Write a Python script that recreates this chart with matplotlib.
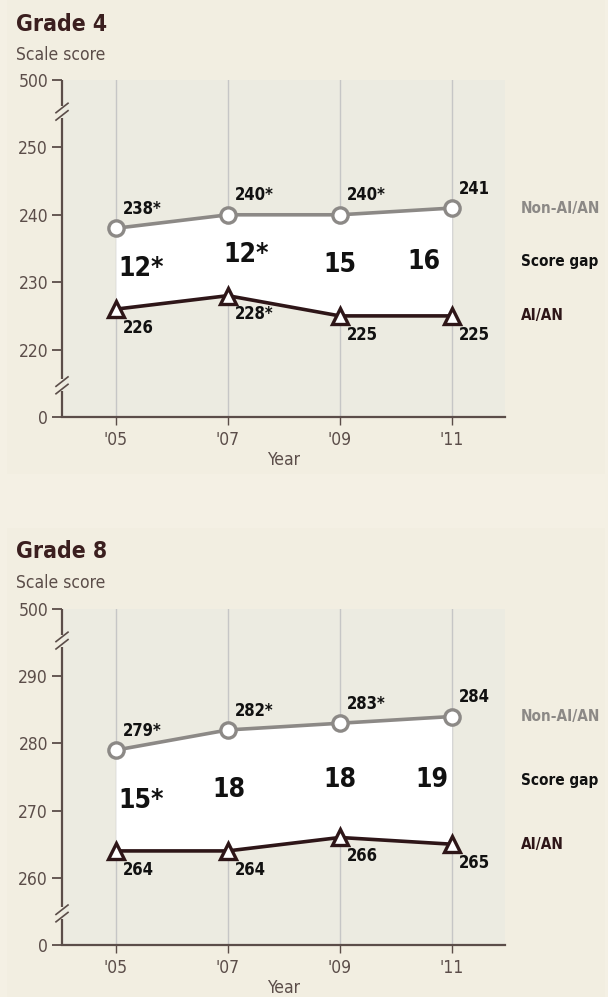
import matplotlib
matplotlib.use("Agg")
import matplotlib.pyplot as plt
import matplotlib.transforms as mtransforms
from matplotlib.patches import Rectangle

plt.rcParams['font.family'] = ['DejaVu Sans']
plt.rcParams['font.stretch'] = 'condensed'

# data
years = [2005, 2007, 2009, 2011]
year_labels = ["'05", "'07", "'09", "'11"]

g4_non = [238, 240, 240, 241]
g4_ai = [226, 228, 225, 225]
g4_non_labels = ["238*", "240*", "240*", "241"]
g4_ai_labels = ["226", "228*", "225", "225"]
g4_gap_labels = ["12*", "12*", "15", "16"]
g4_ticks = [220, 230, 240, 250]

g8_non = [279, 282, 283, 284]
g8_ai = [264, 264, 266, 265]
g8_non_labels = ["279*", "282*", "283*", "284"]
g8_ai_labels = ["264", "264", "266", "265"]
g8_gap_labels = ["15*", "18", "18", "19"]
g8_ticks = [260, 270, 280, 290]

# colours
BG = "#f4f0e4"
PANEL = "#f2eee1"
PLOT_BG = "#ecebe1"
TITLE_C = "#3b1f1f"
TEXT_C = "#5b4d49"
AXIS_C = "#5b4d49"
GRID_C = "#c6c6c6"
NON_C = "#8c8986"
AI_C = "#2e1618"

W, H = 608, 997
fig = plt.figure(figsize=(W / 100, H / 100), dpi=100)
fig.patch.set_facecolor(BG)

# subtle panels behind each chart
for y0, y1 in [(0, 474), (528, 997)]:
    fig.patches.append(Rectangle((7 / W, 1 - y1 / H), 598 / W, (y1 - y0) / H,
                                 transform=fig.transFigure, facecolor=PANEL,
                                 edgecolor="none", zorder=-5))


def draw_panel(top_px, bottom_px, title, title_base, sub_base,
               non, ai, non_labels, ai_labels, gap_labels, gap_x, ticks):
    ax = fig.add_axes([62 / W, 1 - bottom_px / H, 443 / W, (bottom_px - top_px) / H])
    ax.set_facecolor(PLOT_BG)
    lo = ticks[0] - 10   # stands for 0
    hi = ticks[-1] + 10  # stands for 500
    ax.set_ylim(lo, hi)
    ax.set_xlim(2004.04, 2011.95)

    for s in ["top", "right", "left"]:
        ax.spines[s].set_visible(False)
    ax.spines["bottom"].set_color(AXIS_C)
    ax.spines["bottom"].set_linewidth(1.6)

    ax.set_yticks([lo] + ticks + [hi])
    ax.set_yticklabels(["0"] + [str(t) for t in ticks] + ["500"])
    ax.set_xticks(years)
    ax.set_xticklabels(year_labels)
    ax.tick_params(axis="y", length=7, width=1.3, color=AXIS_C,
                   labelcolor=TEXT_C, labelsize=12.5, pad=3)
    ax.tick_params(axis="x", length=6, width=1.0, color=AXIS_C,
                   labelcolor=TEXT_C, labelsize=12.5, pad=4)

    # broken y axis
    tr = mtransforms.blended_transform_factory(ax.transAxes, ax.transData)
    b_lo, b_hi = lo + 4.7, hi - 4.7
    g = 0.9
    for y0, y1 in [(lo, b_lo - g), (b_lo + g, b_hi - g), (b_hi + g, hi)]:
        ax.plot([0, 0], [y0, y1], color=AXIS_C, lw=1.6, transform=tr,
                clip_on=False, zorder=5, solid_capstyle="butt")
    dx = 6 / 443
    for b in [b_lo, b_hi]:
        for d in [-0.55, 0.55]:
            ax.plot([-dx, dx], [b + d - 0.7, b + d + 0.7], color=AXIS_C,
                    lw=1.2, transform=tr, clip_on=False, zorder=5)

    for x in years:
        ax.axvline(x, color=GRID_C, lw=1.0, zorder=1)

    ax.fill_between(years, ai, non, color="white", zorder=2, lw=0)

    ax.plot(years, non, color=NON_C, lw=2.6, marker="o", markersize=11,
            markerfacecolor="white", markeredgecolor=NON_C, markeredgewidth=2.4,
            zorder=4)
    ax.plot(years, ai, color=AI_C, lw=2.6, marker="^", markersize=11.5,
            markerfacecolor="white", markeredgecolor=AI_C, markeredgewidth=2.4,
            zorder=4)

    for x, v, lab in zip(years, non, non_labels):
        ax.annotate(lab, (x, v), xytext=(5, 14), textcoords="offset points",
                    ha="left", va="center", fontsize=12, fontweight="bold",
                    color="#111111", zorder=6)
    for x, v, lab in zip(years, ai, ai_labels):
        ax.annotate(lab, (x, v), xytext=(5, -13.5), textcoords="offset points",
                    ha="left", va="center", fontsize=12, fontweight="bold",
                    color="#111111", zorder=6)
    for x, a, b, lab in zip(gap_x, non, ai, gap_labels):
        ax.text(x, (a + b) / 2, lab, ha="center", va="center", fontsize=19,
                fontweight="bold", color="#111111", zorder=6)

    # right-hand key
    kx = 1.036
    ax.text(kx, non[-1], "Non-AI/AN", transform=tr, ha="left", va="center",
            fontsize=11, fontweight="bold", color=NON_C)
    ax.text(kx, (non[-1] + ai[-1]) / 2, "Score gap", transform=tr, ha="left",
            va="center", fontsize=11, fontweight="bold", color="#111111")
    ax.text(kx, ai[-1], "AI/AN", transform=tr, ha="left", va="center",
            fontsize=11, fontweight="bold", color=AI_C)

    ax.text(0.5, -43 / (bottom_px - top_px), "Year", transform=ax.transAxes,
            ha="center", va="center", fontsize=12.5, color=TEXT_C)

    fig.text(16 / W, 1 - title_base / H, title, ha="left", va="baseline",
             fontsize=16.5, fontweight="bold", color=TITLE_C)
    fig.text(16 / W, 1 - sub_base / H, "Scale score", ha="left", va="baseline",
             fontsize=12.5, color=TEXT_C)
    return ax


draw_panel(80, 417, "Grade 4", 31, 60, g4_non, g4_ai, g4_non_labels,
           g4_ai_labels, g4_gap_labels, [2005.45, 2007.32, 2009.0, 2010.5],
           g4_ticks)
draw_panel(609, 945, "Grade 8", 558, 588, g8_non, g8_ai, g8_non_labels,
           g8_ai_labels, g8_gap_labels, [2005.45, 2007.02, 2009.0, 2010.64],
           g8_ticks)

fig.savefig("out.png", dpi=100, facecolor=fig.get_facecolor())
